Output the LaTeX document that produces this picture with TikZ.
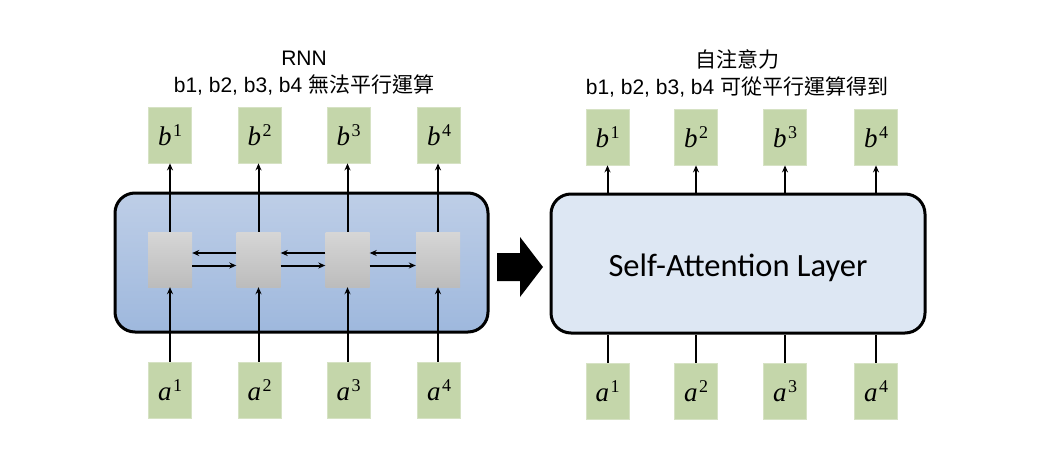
\documentclass[tikz,border=0pt]{standalone}
\usepackage{fontspec}
\setmainfont{Liberation Sans}
\newfontfamily\cjk{Noto Sans CJK TC}
\newfontfamily\calfont{Carlito}
\newfontfamily\labfont{Liberation Serif}
\usetikzlibrary{arrows.meta}
\definecolor{gfill}{RGB}{196,214,170}
\definecolor{gline}{RGB}{214,226,196}
\definecolor{btop}{RGB}{190,206,231}
\definecolor{bbot}{RGB}{158,184,221}
\definecolor{ctop}{RGB}{214,214,214}
\definecolor{cbot}{RGB}{188,188,188}
\definecolor{safill}{RGB}{221,231,243}
\newcommand{\lab}[2]{{\labfont\fontsize{27}{30}\selectfont\itshape #1}\kern1.5pt\raisebox{9pt}{\labfont\fontsize{18}{20}\selectfont #2}}
\tikzset{
  gbox/.style={fill=gfill, draw=gline, line width=0.8pt, minimum width=43pt, minimum height=56pt, inner sep=0pt},
  cellbox/.style={top color=ctop, bottom color=cbot, draw=none, minimum width=44pt, minimum height=55pt, inner sep=0pt},
  bigbox/.style={draw=black, line width=3pt, rounded corners=20pt, inner sep=0pt},
  arr/.style={line width=2pt, -{Stealth[length=7pt,width=6pt]}},
  plain/.style={line width=2pt},
  ttl/.style={align=center, font=\fontsize{21}{27}\selectfont}
}
\begin{document}
\begin{tikzpicture}[x=1pt,y=-1pt]
\useasboundingbox (0,0) rectangle (1052,463);
% titles
\node[ttl] (t1) at (304,73) {RNN\\b1, b2, b3, b4 {\cjk 無法平行運算}};
\node[ttl] (t2) at (737,73) {{\cjk 自注意力}\\b1, b2, b3, b4 {\cjk 可從平行運算得到}};
% left big box
\node[bigbox, top color=btop, bottom color=bbot, minimum width=373pt, minimum height=139pt] (rnn) at (301.5,262.5) {};
% cells
\foreach \i/\x in {1/170,2/258.5,3/347.5,4/438}{
  \node[cellbox] (c\i) at (\x,259.5) {};
}
\foreach \i/\x in {1/170,2/259.5,3/348.5,4/439}{
  \node[gbox] (bL\i) at (\x,135) {\lab{b}{\i}};
  \node[gbox] (aL\i) at (\x,390) {\lab{a}{\i}};
}
\foreach \i in {1,2,3,4}{
  \draw[arr] (c\i.north) -- (c\i.north |- bL\i.south);
  \draw[arr] (aL\i.north -| c\i.north) -- (c\i.south);
}
\foreach \i/\j in {1/2,2/3,3/4}{
  \draw[arr] ([yshift=6.5pt]c\j.west) -- ([yshift=6.5pt]c\i.east);
  \draw[arr] ([yshift=-6pt]c\i.east) -- ([yshift=-6pt]c\j.west);
}
% block arrow
\fill[black] (497,253) -- (520,253) -- (520,237) -- (543,267) -- (520,297) -- (520,281) -- (497,281) -- cycle;
% right big box
\node[bigbox, fill=safill, minimum width=374pt, minimum height=139pt] (sa) at (738,263.5) {};
\node[font=\calfont\fontsize{32.5}{36}\selectfont, inner sep=0pt] (satext) at (738,268) {Self-Attention Layer};
\foreach \i/\x in {1/607.5,2/696,3/785,4/876}{
  \node[gbox] (bR\i) at (\x,137) {\lab{b}{\i}};
  \node[gbox] (aR\i) at (\x,391.5) {\lab{a}{\i}};
  \draw[arr] (sa.north -| bR\i) -- (bR\i.south);
  \draw[plain] (aR\i.north) -- (aR\i.north |- sa.south);
}
\end{tikzpicture}
\end{document}
